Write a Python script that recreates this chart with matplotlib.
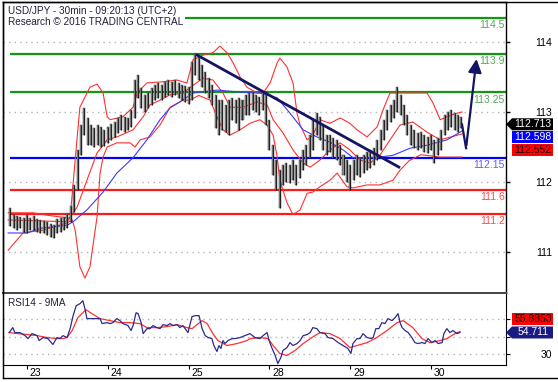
import matplotlib.pyplot as plt
import matplotlib.transforms as mtransforms
from matplotlib.patches import Polygon
from matplotlib.lines import Line2D

plt.rcParams['font.family'] = ['Liberation Sans', 'DejaVu Sans']

W, H = 558, 382

# hourly bars, hours counted from the start of the 23rd
hours = list(range(-5, 130))
highs = [111.30, 111.18, 111.17, 111.15, 111.13,
         111.18, 111.13, 111.17, 111.12, 111.10, 111.08, 111.07, 111.03, 111.01, 111.12, 111.13, 111.15, 111.20,
         111.33, 111.69, 112.28, 112.70, 112.99, 112.82, 112.70, 112.65, 112.70, 112.67, 112.62,
         112.67, 112.72, 112.75, 112.82, 112.87, 112.84, 112.82, 112.95, 113.46, 113.54, 113.32, 113.21, 113.26,
         113.32, 113.37, 113.41, 113.37, 113.43, 113.46, 113.43, 113.46, 113.41, 113.37, 113.36, 113.34,
         113.76, 113.90, 113.83, 113.71, 113.59, 113.49, 113.37, 113.21, 113.12, 113.12, 113.04, 113.12,
         113.16, 113.12, 113.16, 113.12, 113.21, 113.24, 113.26, 113.21, 113.17, 113.26, 113.21, 112.79,
         112.36, 112.11, 111.94, 112.03, 112.06, 112.03, 112.11, 112.03, 112.11, 112.28, 112.36, 112.53,
         112.79, 112.90, 112.84, 112.70, 112.53, 112.53, 112.48, 112.45, 112.36, 112.19, 112.11, 112.03,
         112.11, 112.19, 112.15, 112.19, 112.25, 112.28, 112.31, 112.45, 112.62, 112.79, 112.95, 113.04,
         113.12, 113.34, 113.21, 113.04, 112.87, 112.70, 112.62, 112.57, 112.58, 112.53, 112.50, 112.53,
         112.45, 112.48, 112.62, 112.87, 112.92, 112.95, 112.90, 112.87, 112.84]
lows = [111.00, 110.96, 110.93, 110.96, 110.90,
        110.88, 110.93, 110.93, 110.90, 110.88, 110.88, 110.85, 110.81, 110.80, 110.88, 110.90, 110.93, 110.96,
        111.07, 111.23, 111.61, 112.19, 112.53, 112.36, 112.36, 112.33, 112.36, 112.33, 112.35,
        112.40, 112.45, 112.50, 112.57, 112.62, 112.58, 112.62, 112.67, 112.82, 113.16, 112.99, 112.92, 112.99,
        113.04, 113.12, 113.16, 113.12, 113.17, 113.21, 113.17, 113.21, 113.16, 113.12, 113.09, 113.05,
        113.12, 113.54, 113.46, 113.34, 113.24, 113.16, 113.04, 112.65, 112.53, 112.62, 112.58, 112.53,
        112.79, 112.73, 112.62, 112.79, 112.87, 112.87, 112.95, 112.92, 112.87, 112.95, 112.70, 112.28,
        111.86, 111.61, 111.30, 111.69, 111.74, 111.72, 111.77, 111.69, 111.81, 111.94, 112.03, 112.15,
        112.28, 112.53, 112.45, 112.28, 112.19, 112.25, 112.15, 112.11, 112.03, 111.86, 111.74, 111.61,
        111.77, 111.86, 111.82, 111.89, 111.94, 111.98, 112.03, 112.11, 112.28, 112.45, 112.62, 112.75,
        112.82, 112.92, 112.87, 112.70, 112.53, 112.36, 112.31, 112.28, 112.31, 112.25, 112.23, 112.28,
        112.06, 112.19, 112.28, 112.53, 112.62, 112.67, 112.62, 112.58, 112.65]

# bollinger bands (red) and moving average (blue)
upper_h = [-5.6, 1.8, 5.9, 12.8, 14.3, 15.7, 18.7, 20.8, 22.6, 23.8, 24.7, 28.5, 31.5, 32.7, 35.6, 40.4,
           44.5, 47.5, 49.3, 52.3, 55.2, 57.3, 59.4, 61.2, 63.3, 65.3, 68.3, 70.1, 72.2, 74.3, 75.1, 77.2,
           79.0, 80.2, 81.1, 83.2, 84.9, 87.0, 90.0, 93.0, 95.9, 98.0, 101.0, 104.0, 105.7, 107.8, 110.8,
           114.6, 118.8, 120.6, 122.7, 124.7, 127.7, 129.2]
upper_v = [111.22, 111.22, 111.18, 111.13, 112.11, 113.00, 113.34, 113.39, 113.24, 112.84, 112.79, 112.84,
           113.00, 113.24, 113.41, 113.43, 113.46, 113.41, 113.80, 113.88, 113.92, 114.03, 113.92, 113.75,
           113.51, 113.34, 113.24, 113.24, 113.41, 113.75, 113.83, 113.68, 113.41, 112.90, 112.70, 112.45,
           112.53, 112.79, 112.73, 112.82, 112.73, 112.62, 112.50, 112.67, 112.95, 113.24, 113.24, 113.24,
           113.24, 113.07, 112.79, 112.84, 112.90, 112.92]
lower_h = [-5.6, -1.2, 4.8, 11.9, 13.4, 14.3, 15.7, 17.2, 18.7, 20.8, 21.7, 22.6, 23.8, 26.7, 30.6, 32.1,
           33.6, 36.5, 39.5, 42.5, 46.3, 48.4, 51.0, 54.4, 56.4, 58.2, 60.3, 63.3, 66.2, 69.2, 71.3, 73.1,
           74.3, 75.1, 77.2, 79.0, 81.1, 83.2, 84.9, 87.0, 90.0, 92.1, 95.0, 96.8, 101.0, 104.8, 108.7,
           110.8, 113.5, 117.0, 122.7, 129.2]
lower_v = [110.59, 110.88, 110.93, 111.05, 111.10, 110.93, 110.31, 110.12, 110.31, 111.15, 111.89, 112.16,
           112.33, 112.40, 112.40, 112.33, 112.45, 112.50, 112.70, 113.00, 113.12, 113.12, 113.20, 113.12,
           112.84, 112.62, 112.53, 112.62, 112.73, 112.79, 112.70, 112.53, 112.16, 111.77, 111.39, 111.19,
           111.27, 111.55, 111.57, 111.66, 111.77, 111.89, 111.66, 111.64, 111.69, 111.69, 111.77, 111.94,
           112.10, 112.20, 112.16, 112.16]
mid_h = [-5.6, 11.9, 14.9, 17.8, 20.8, 23.8, 26.7, 31.5, 34.5, 36.5, 39.5, 42.5, 46.3, 49.3, 52.3, 55.2,
         58.2, 60.3, 64.2, 68.3, 71.3, 73.1, 76.0, 79.0, 82.0, 84.1, 87.0, 90.0, 93.0, 95.9, 98.9, 101.9,
         104.8, 107.8, 110.8, 114.6, 118.8, 122.7, 129.2]
mid_v = [111.10, 111.07, 111.32, 111.77, 112.23, 112.45, 112.50, 112.62, 112.84, 113.04, 113.12, 113.21,
         113.24, 113.37, 113.49, 113.46, 113.24, 113.00, 113.00, 113.09, 113.04, 112.79, 112.57, 112.28,
         112.06, 111.99, 112.11, 112.28, 112.40, 112.28, 112.11, 112.06, 112.19, 112.45, 112.70, 112.75,
         112.58, 112.45, 112.55]
ma_h = [-5.6, 0.0, 3.9, 11.9, 13.7, 17.8, 22.6, 26.7, 31.5, 35.6, 39.5, 42.5, 45.4, 49.3, 56.4, 62.4,
        69.2, 74.3, 78.1, 82.0, 86.1, 90.0, 93.9, 96.8, 101.0, 104.8, 108.7, 113.8, 118.8, 124.7, 129.2]
ma_v = [110.88, 110.88, 110.96, 111.01, 111.07, 111.27, 111.57, 111.89, 112.15, 112.45, 112.79, 112.99,
        113.09, 113.24, 113.29, 113.26, 113.24, 113.16, 112.90, 112.62, 112.50, 112.41, 112.28, 112.15,
        112.15, 112.16, 112.19, 112.31, 112.36, 112.45, 112.60]

levels = [114.5, 113.9, 113.25, 112.15, 111.6, 111.2]
level_labels = ['114.5', '113.9', '113.25', '112.15', '111.6', '111.2']
level_colors = ['#119911', '#119911', '#119911', '#0000ff', '#ff1a1a', '#ff1a1a']
level_text_colors = ['#5aa85a', '#5aa85a', '#5aa85a', '#5c5cf0', '#ff4a4a', '#ff4a4a']

trend_h = [50.2, 110.8]
trend_v = [113.89, 111.98]
proj_h = [129.2, 130.4, 133.6]
proj_v = [112.71, 112.31, 113.86]

# RSI panel
rsi_h = [-5.3, -4.2, -3.6, -2.1, -0.6, 0.3, 1.5, 3.0, 3.6, 4.8, 6.2, 7.7, 8.9, 9.8, 10.7, 11.9, 12.8, 13.7,
         14.6, 15.7, 16.6, 17.2, 17.8, 19.6, 21.7, 22.3, 23.8, 24.7, 25.5, 26.7, 27.6, 28.5, 30.0, 30.9,
         31.5, 32.4, 33.0, 33.9, 34.5, 35.6, 36.5, 37.4, 38.6, 39.5, 40.4, 41.6, 42.5, 43.4, 44.6, 45.4,
         46.3, 47.8, 49.0, 49.9, 51.1, 52.0, 52.9, 53.8, 54.9, 55.5, 56.4, 57.0, 57.6, 58.2, 58.8, 59.7,
         60.9, 61.8, 63.3, 64.7, 66.2, 67.7, 69.2, 70.1, 71.3, 71.9, 72.8, 73.7, 74.5, 75.4, 76.0, 77.2,
         78.1, 79.0, 80.2, 81.1, 82.0, 83.2, 84.1, 84.9, 86.1, 87.0, 88.5, 89.4, 90.9, 92.4, 93.9, 95.3,
         96.2, 96.8, 98.0, 98.9, 99.8, 101.0, 102.2, 102.8, 103.6, 104.5, 105.4, 106.3, 107.2, 108.4,
         109.3, 110.2, 110.8, 111.4, 112.3, 113.2, 114.3, 115.2, 116.1, 117.3, 118.2, 119.1, 120.3,
         121.2, 122.1, 123.3, 123.8, 124.7, 125.6, 126.5, 127.7, 128.6]
rsi_v = [54.6, 60.3, 54.6, 54.6, 51.1, 47.7, 53.4, 51.1, 45.4, 48.9, 47.7, 40.9, 48.9, 47.7, 51.1, 48.9,
         59.1, 74.0, 85.4, 87.7, 91.1, 82.0, 70.6, 70.6, 70.6, 64.9, 66.0, 64.9, 66.0, 70.6, 68.3, 64.9,
         62.6, 56.9, 62.6, 77.4, 76.3, 66.0, 53.4, 59.1, 59.1, 62.6, 60.3, 59.1, 63.7, 62.6, 64.9, 62.6,
         63.7, 60.3, 62.6, 54.6, 72.9, 74.0, 74.0, 59.1, 51.1, 48.9, 47.7, 39.7, 32.9, 39.7, 36.3, 45.4,
         42.0, 45.4, 47.7, 47.7, 48.9, 51.1, 53.4, 48.9, 47.7, 51.1, 54.6, 45.4, 36.3, 28.3, 19.1, 26.0,
         34.0, 37.4, 43.1, 39.7, 42.0, 45.4, 51.1, 52.3, 54.6, 60.3, 59.1, 54.6, 53.4, 48.9, 47.7, 43.1,
         39.7, 36.3, 30.6, 42.0, 47.7, 47.7, 53.4, 48.9, 47.7, 48.9, 59.1, 59.1, 66.0, 64.9, 70.6, 68.3,
         71.7, 76.3, 66.0, 60.3, 56.9, 54.6, 48.9, 43.1, 42.0, 43.1, 42.0, 47.7, 43.1, 45.4, 42.0, 43.1,
         53.4, 59.1, 54.6, 56.9, 53.4, 54.7]
rsi_ma_h = [-5.3, -2.7, 0.3, 3.0, 6.0, 8.9, 10.7, 11.9, 13.4, 15.1, 17.5, 19.3, 21.7, 24.7, 27.6, 30.6,
            33.6, 35.6, 38.6, 41.6, 44.6, 47.5, 49.0, 50.5, 52.0, 53.5, 55.2, 56.7, 59.4, 62.4, 65.3, 66.2,
            69.2, 71.6, 73.1, 75.1, 77.2, 79.6, 82.0, 84.6, 87.0, 90.0, 93.0, 95.9, 98.0, 101.0, 103.9,
            106.9, 109.9, 111.7, 114.6, 117.3, 119.7, 122.7, 124.7, 127.1, 128.6]
rsi_ma_v = [54.6, 53.4, 52.3, 51.1, 48.9, 47.7, 47.7, 48.9, 56.9, 71.7, 80.9, 76.3, 70.6, 68.3, 66.0, 66.0,
            64.9, 60.3, 60.3, 61.4, 63.7, 60.3, 59.1, 63.7, 68.3, 64.9, 53.4, 45.4, 39.7, 42.0, 45.4, 47.7,
            48.9, 47.7, 39.7, 30.6, 28.3, 34.0, 42.0, 48.9, 54.6, 53.4, 47.7, 37.4, 39.7, 43.1, 48.9, 56.9,
            66.0, 68.3, 60.3, 47.7, 43.1, 45.4, 47.7, 53.4, 55.9]

day_ticks = [0, 24, 48, 72, 96, 120]
day_labels = ['23', '24', '25', '28', '29', '30']
price_ticks = [114, 113, 112, 111]
rsi_ticks = [70, 50, 30]

last_price, last_ma, last_mid = 112.713, 112.598, 112.552
last_rsi, last_rsi_ma = 54.711, 55.8853


def fx(px):
    return px / W


def fy(py):
    return 1 - py / H


fig = plt.figure(figsize=(W / 100, H / 100), dpi=100)
ax = fig.add_axes([fx(3), fy(293), fx(506) - fx(3), fy(2) - fy(293)])
ax2 = fig.add_axes([fx(3), fy(365), fx(506) - fx(3), fy(293) - fy(365)])

dot = (0, (1, 3))
xlim = (-7.13, 142.26)

# ---- main price panel
ax.set_xlim(*xlim)
ax.set_ylim(109.868, 114.775)
# the axis labels on the original image sit on a different scale than the levels
tick_pos = [112.92 + (v - 113) * 1.184 for v in price_ticks]
for t in tick_pos:
    ax.axhline(t, color='#b4b4b4', lw=1, ls=dot, zorder=0)
ax.set_yticks(tick_pos, [str(v) for v in price_ticks])
ax.yaxis.tick_right()
ax.tick_params(axis='y', length=3, width=1, labelsize=7.5, pad=30)
for lab in ax.get_yticklabels():
    lab.set_ha('right')
ax.set_xticks([])

for lv, c in zip(levels, level_colors):
    ax.hlines(lv, -5.1, xlim[1], color=c, lw=1.6, zorder=2)
for lv, lab, c in zip(levels, level_labels, level_text_colors):
    ax.annotate(lab, xy=(1, lv), xycoords=ax.get_yaxis_transform(), xytext=(-1, -1.5),
                textcoords='offset points', ha='right', va='top', fontsize=7.5, color=c)

ax.plot(upper_h, upper_v, color='#ff3030', lw=0.8, zorder=3)
ax.plot(lower_h, lower_v, color='#ff3030', lw=0.8, zorder=3)
ax.plot(mid_h, mid_v, color='#ff3030', lw=0.8, zorder=3)
ax.plot(ma_h, ma_v, color='#3a3aff', lw=0.8, zorder=3)

span = [hi - lo for hi, lo in zip(highs, lows)]
ax.bar(hours, span, bottom=lows, width=0.6, color='#8c8c8c', edgecolor='#222222', linewidth=0.3, zorder=4)
ax.vlines(hours, lows, highs, color='black', lw=0.5, zorder=5)

ax.plot(trend_h, trend_v, color='#141464', lw=2, zorder=6, solid_capstyle='butt')
ax.plot(proj_h[:2], proj_v[:2], color='#141464', lw=1.6, zorder=6)
ax.annotate('', xy=(proj_h[2], proj_v[2]), xytext=(proj_h[1], proj_v[1]),
            arrowprops=dict(arrowstyle='-|>,head_length=0.8,head_width=0.4', color='#141464', lw=1.6),
            zorder=6)

for s in ax.spines.values():
    s.set_linewidth(1)

ax.text(0.01, 0.985, 'USD/JPY - 30min - 09:20:13 (UTC+2)\nResearch \u00a9 2016 TRADING CENTRAL',
        transform=ax.transAxes, ha='left', va='top', fontsize=7.2, color='#20203a', linespacing=1.05,
        bbox=dict(facecolor='white', edgecolor='none', pad=1.5), zorder=8)

# ---- RSI panel
ax2.set_xlim(*xlim)
ax2.set_ylim(17.4, 100)
for t in rsi_ticks:
    ax2.axhline(t, color='#b4b4b4', lw=1, ls=dot, zorder=0)
ax2.plot(rsi_ma_h, rsi_ma_v, color='#ff3030', lw=0.9)
ax2.plot(rsi_h, rsi_v, color='#2a2a90', lw=0.9)
# 70 and 50 are hidden behind the value boxes on the original
ax2.set_yticks(rsi_ticks, ['', '', '30'])
ax2.yaxis.tick_right()
ax2.tick_params(axis='y', length=3, labelsize=7.5, pad=30)
for lab in ax2.get_yticklabels():
    lab.set_ha('right')
ax2.set_xticks(day_ticks, day_labels)
ax2.tick_params(axis='x', length=3, labelsize=7.5, pad=-1)
shift = mtransforms.ScaledTranslation(2 / 72, 0, fig.dpi_scale_trans)
for lab in ax2.get_xticklabels():
    lab.set_ha('left')
    lab.set_transform(lab.get_transform() + shift)
ax2.text(0.01, 0.93, 'RSI14 - 9MA', transform=ax2.transAxes, ha='left', va='top', fontsize=7.2,
         color='#20203a')
ax2.spines['top'].set_linewidth(1.4)
ax2.spines['top'].set_color('#444444')

# ---- outer frame
fig.add_artist(Line2D([fx(3), 1], [fy(2), fy(2)], color='black', lw=1))
fig.add_artist(Line2D([fx(3), 1], [fy(378), fy(378)], color='black', lw=1))
fig.add_artist(Line2D([fx(3), fx(3)], [fy(2), fy(378)], color='black', lw=1))

# ---- value boxes on the right
fig.canvas.draw()


def value_box(axis, value, step, text, face, tcolor, arrow):
    _, yd = axis.transData.transform((0, value))
    py = H - yd + step
    x0, x1, h2 = 512, 553, 6
    pts = [(x0, py - h2), (x1, py - h2), (x1, py + h2), (x0, py + h2)]
    if arrow:
        pts = [(506, py)] + pts
    fig.add_artist(Polygon([(fx(a), fy(b)) for a, b in pts], closed=True, transform=fig.transFigure,
                           facecolor=face, edgecolor='none', zorder=10))
    fig.text(fx(533), fy(py), text, ha='center', va='center', color=tcolor, fontsize=7.5, zorder=11)


value_box(ax, last_price, 0, '112.713', 'black', 'white', True)
value_box(ax, last_price, 13, '112.598', '#0000ff', 'white', False)
value_box(ax, last_price, 26, '112.552', '#ff0000', '#200000', False)
value_box(ax2, last_rsi, 0, '54.711', '#1a1a80', 'white', True)
value_box(ax2, last_rsi, -13, '55.8853', '#ff0000', '#200000', False)

fig.savefig('out.png', dpi=100)
